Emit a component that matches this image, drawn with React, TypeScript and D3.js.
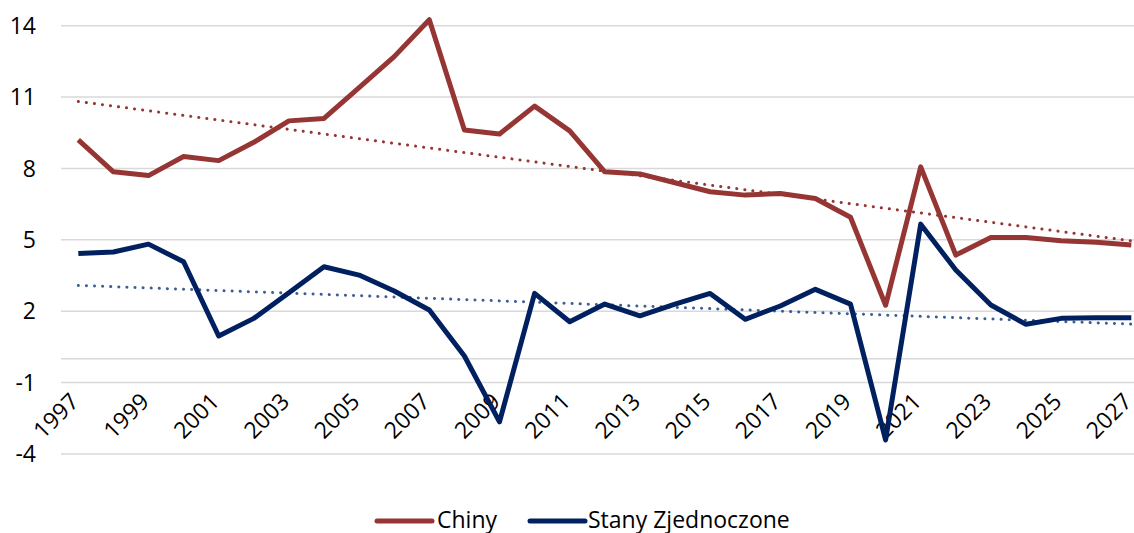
import * as d3 from 'd3';
import React from 'react';

const years = d3.range(1997, 2028);
const chiny = [9.2, 7.86, 7.7, 8.5, 8.33, 9.1, 10.0, 10.1, 11.4, 12.7, 14.25, 9.62, 9.45, 10.62, 9.58,
  7.86, 7.77, 7.4, 7.02, 6.88, 6.95, 6.74, 5.95, 2.25, 8.07, 4.36, 5.1, 5.1, 4.96, 4.9, 4.78];
const usa = [4.43, 4.49, 4.82, 4.08, 0.96, 1.7, 2.78, 3.87, 3.52, 2.85, 2.05, 0.12, -2.65, 2.75, 1.56,
  2.3, 1.81, 2.3, 2.75, 1.66, 2.22, 2.92, 2.3, -3.41, 5.66, 3.73, 2.26, 1.45, 1.7, 1.73, 1.73];
const yTicks = [14, 11, 8, 5, 2, -1, -4];
const labelYears = years.filter((y) => (y - 1997) % 2 === 0);

const series = [
  { name: 'Chiny', values: chiny, color: '#963634', trendColor: '#963634' },
  { name: 'Stany Zjednoczone', values: usa, color: '#002060', trendColor: '#3A5E96' },
];

// least squares trend, as the spreadsheet draws it
const trend = (vals: number[]) => {
  const n = vals.length;
  const mx = d3.mean(years)!;
  const my = d3.mean(vals)!;
  const sxy = d3.sum(years, (x, i) => (x - mx) * (vals[i] - my));
  const sxx = d3.sum(years, (x) => (x - mx) ** 2);
  const b = sxy / sxx;
  const a = my - b * mx;
  return [years[0], years[n - 1]].map((x) => ({ x, v: a + b * x }));
};

export default function App() {
  const width = 1134;
  const height = 533;
  const font = '"Open Sans", sans-serif';
  const fs = 23;

  const x = d3.scalePoint<number>().domain(years).range([78.3, 1131.3]);
  const y = d3.scaleLinear().domain([-4, 14]).range([454, 25.7]);

  const line = d3.line<number>()
    .x((_, i) => x(years[i])!)
    .y((d) => y(d));

  const trendLine = d3.line<{ x: number; v: number }>()
    .x((d) => x(d.x)!)
    .y((d) => y(d.v));

  return (
    <svg width={width} height={height} style={{ position: 'absolute', left: 0, top: 0 }} fontFamily={font}>
      <rect width={width} height={height} fill="#fff" />
      {yTicks.map((t) => (
        <g key={t}>
          <line x1={61} x2={width} y1={y(t)} y2={y(t)} stroke="#d9d9d9" strokeWidth={1.5} />
          <text x={36} y={y(t)} dy="0.35em" textAnchor="end" fontSize={fs} fill="#000">{t}</text>
        </g>
      ))}
      <line x1={61} x2={width} y1={y(0)} y2={y(0)} stroke="#d9d9d9" strokeWidth={1.5} />
      {labelYears.map((yr) => (
        <text key={yr} transform={`translate(${x(yr)! + 2},${y(0) + 44}) rotate(-45)`}
          textAnchor="end" fontSize={fs} fill="#000">{yr}</text>
      ))}
      {series.map((s) => (
        <path key={s.name + 't'} d={trendLine(trend(s.values))!} fill="none" stroke={s.trendColor}
          strokeWidth={3} strokeDasharray="0.1 8" strokeLinecap="round" />
      ))}
      {series.map((s) => (
        <path key={s.name} d={line(s.values)!} fill="none" stroke={s.color} strokeWidth={5}
          strokeLinejoin="round" />
      ))}
      <g>
        <line x1={377} x2={432} y1={521} y2={521} stroke={series[0].color} strokeWidth={5} strokeLinecap="round" />
        <text x={437} y={520} dy="0.35em" fontSize={fs} fill="#000">Chiny</text>
        <line x1={530} x2={585} y1={521} y2={521} stroke={series[1].color} strokeWidth={5} strokeLinecap="round" />
        <text x={588} y={520} dy="0.35em" fontSize={fs} fill="#000">Stany Zjednoczone</text>
      </g>
    </svg>
  );
}
